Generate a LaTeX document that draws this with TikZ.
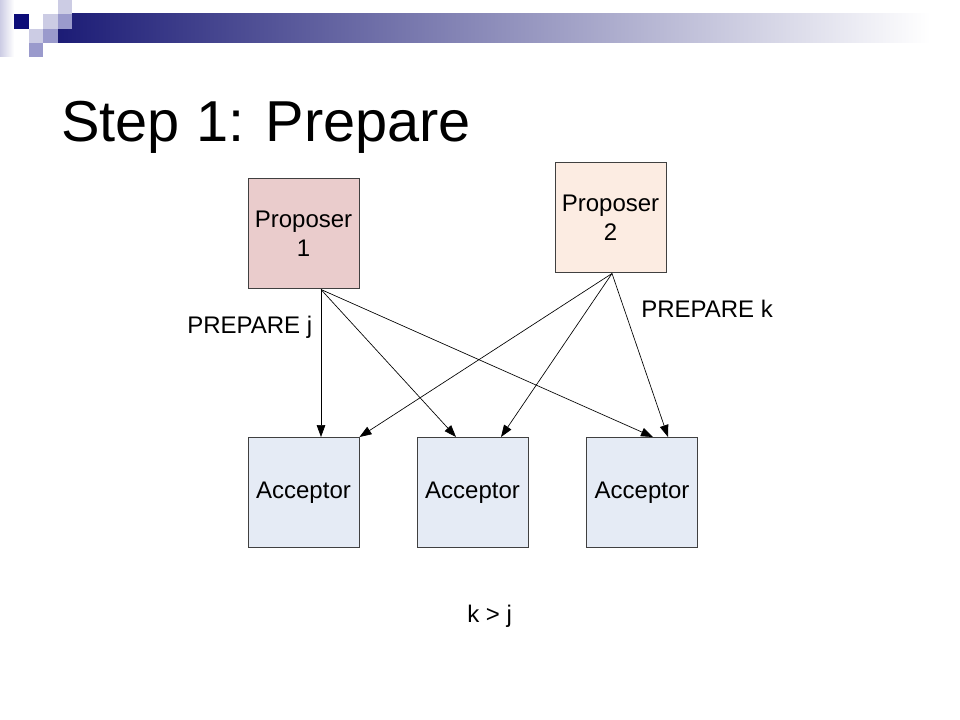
\documentclass[tikz,border=0pt]{standalone}
\usepackage{fontspec}
\setmainfont{Liberation Sans}
\usetikzlibrary{arrows.meta,calc}
\definecolor{navy}{RGB}{12,12,120}
\definecolor{barnavy}{RGB}{28,28,118}
\definecolor{lightlav}{RGB}{204,204,228}
\definecolor{medlav}{RGB}{154,154,204}
\definecolor{pone}{RGB}{234,204,204}
\definecolor{ptwo}{RGB}{252,236,226}
\definecolor{accfill}{RGB}{229,235,245}
\definecolor{boxline}{RGB}{64,64,64}
\begin{document}
\begin{tikzpicture}[x=0.75pt,y=-0.75pt,
  box/.style={draw=boxline, line width=0.75pt, minimum width=83.25pt, minimum height=82.5pt, inner sep=0pt, align=center, font=\fontsize{18}{22}\selectfont},
  msg/.style={-{Triangle[length=9pt,width=6.5pt]}, line width=0.5pt, draw=black},
  lbl/.style={anchor=base west, inner sep=0pt, font=\fontsize{18}{22}\selectfont}]
\useasboundingbox (0,0) rectangle (960,720);
\fill[white] (0,0) rectangle (960,720);
% decoration
\shade[left color=lightlav, right color=white] (0,0) rectangle (14,57);
\shade[left color=barnavy, right color=white] (58,14) rectangle (930,43);
\fill[navy] (14,14) rectangle (29,29);
\fill[lightlav] (58,0) rectangle (72,14);
\fill[lightlav] (43,14) rectangle (58,29);
\fill[medlav] (58,14) rectangle (72,29);
\fill[lightlav] (29,29) rectangle (43,43);
\fill[medlav] (43,29) rectangle (58,43);
\fill[medlav] (29,43) rectangle (43,57);
% title
\node[anchor=base west, inner sep=0pt, font=\fontsize{43.3}{50}\selectfont] (title) at (61,142) {Step 1: Prepare};
% boxes
\node[box, fill=pone] (p1) at (303.5,234) {Proposer\\1};
\node[box, fill=ptwo] (p2) at (610.5,218) {Proposer\\2};
\node[box, fill=accfill] (a1) at (303.5,492.5) {Acceptor};
\node[box, fill=accfill] (a2) at (472.5,492.5) {Acceptor};
\node[box, fill=accfill] (a3) at (642,492.5) {Acceptor};
% ports
\coordinate (p1o) at ($(p1.south)+(17.5,0)$);
\coordinate (p2o) at ($(p2.south)+(1.5,0)$);
\coordinate (a1i) at ($(a1.north)+(17.5,0)$);
\coordinate (a1j) at ($(a1.north)+(56,0)$);
\coordinate (a2i) at ($(a2.north)+(-16.5,0)$);
\coordinate (a2j) at ($(a2.north)+(28.5,0)$);
\coordinate (a3i) at ($(a3.north)+(11,0)$);
\coordinate (a3j) at ($(a3.north)+(26,0)$);
% arrows
\draw[msg] (p1o) -- (a1i);
\draw[msg] (p1o) -- (a2i);
\draw[msg] (p1o) -- (a3i);
\draw[msg] (p2o) -- (a1j);
\draw[msg] (p2o) -- (a2j);
\draw[msg] (p2o) -- (a3j);
% labels
\node[lbl] (lj) at (187,333) {PREPARE j};
\node[lbl] (lk) at (641,317) {PREPARE k};
\node[lbl] (kj) at (467,622) {k > j};
\end{tikzpicture}
\end{document}
